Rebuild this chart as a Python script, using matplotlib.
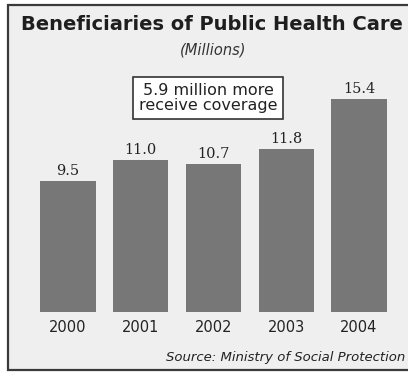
import matplotlib.pyplot as plt
from matplotlib.patches import Rectangle

years = ["2000", "2001", "2002", "2003", "2004"]
beneficiaries = [9.5, 11.0, 10.7, 11.8, 15.4]
value_labels = ["9.5", "11.0", "10.7", "11.8", "15.4"]

W, H = 408, 374
fig = plt.figure(figsize=(W / 100, H / 100), dpi=100)
fig.patch.set_facecolor("white")

# panel background with dark border (right edge runs off the canvas)
frame = Rectangle((8 / W, 4 / H), 1.0, 1 - 9 / H, transform=fig.transFigure,
                  facecolor="#efefef", edgecolor="#3a3a3a", linewidth=1.6, zorder=-1)
fig.patches.append(frame)

ax = fig.add_axes([0, (H - 312) / H, 1, 276 / H])
ax.set_facecolor("none")
x = list(range(len(years)))
ax.bar(x, beneficiaries, width=0.76, color="#777777", zorder=2)
ax.set_xlim(-0.935, 4.674)
ax.set_ylim(0, 20)
ax.axis("off")

for xi, v, lab in zip(x, beneficiaries, value_labels):
    ax.text(xi, v + 0.75, lab, ha="center", va="center", fontsize=10.5,
            family="DejaVu Serif", color="#222222")
    ax.text(xi, -1.1, years[xi], ha="center", va="center", fontsize=10.5,
            family="DejaVu Sans", color="#222222")

fig.text(212 / W, 1 - 25 / H, "Beneficiaries of Public Health Care", ha="center",
         va="center", fontsize=14, fontweight="heavy",
         family="DejaVu Sans", color="#1e1e1e")
fig.text(213 / W, 1 - 50 / H, "(Millions)", ha="center", va="center",
         fontsize=10.5, style="italic", family="DejaVu Sans", color="#333333")

fig.text(208 / W, 1 - 98 / H, "5.9 million more\nreceive coverage", ha="center",
         va="center", fontsize=11.5, family="DejaVu Sans", color="#222222",
         linespacing=1.05,
         bbox=dict(boxstyle="square,pad=0.35", facecolor="white",
                   edgecolor="#333333", linewidth=1.2))

fig.text(405 / W, 1 - 357 / H, "Source: Ministry of Social Protection", ha="right",
         va="center", fontsize=9.5, style="italic", family="DejaVu Sans",
         color="#222222")

fig.savefig("out.png", dpi=100)
